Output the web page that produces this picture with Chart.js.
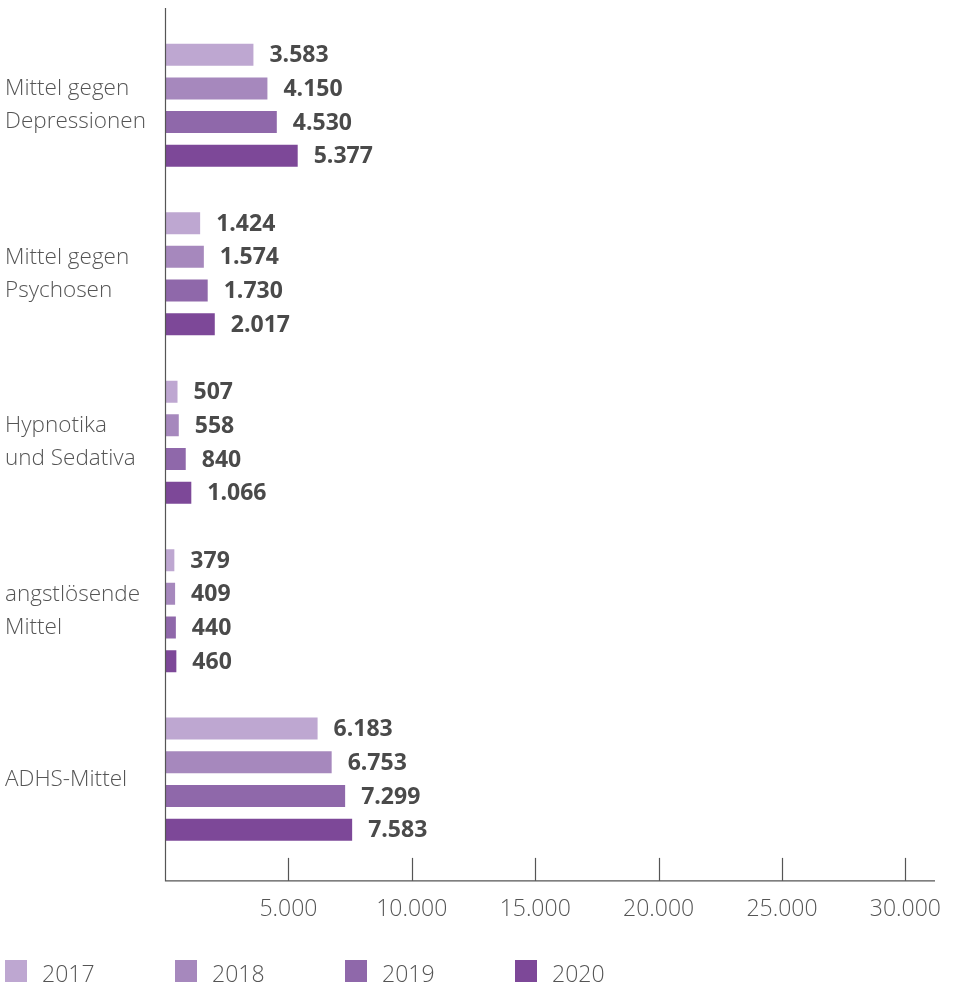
<!DOCTYPE html>
<html>
<head>
<meta charset="utf-8">
<script src="https://cdn.jsdelivr.net/npm/chart.js@4/dist/chart.umd.min.js"></script>
<style>
  html, body { margin: 0; padding: 0; background: #fff; }
  #wrap { position: absolute; left: 0; top: 0; width: 955px; height: 960px; }
  #legend { position: absolute; left: 5px; top: 960px; height: 22px; font-family: "Open Sans", sans-serif; font-weight: 300; font-size: 23px; color: #555; }
  .li { position: absolute; top: 0; height: 22px; white-space: nowrap; }
  .sw { position: absolute; left: 0; top: 0; width: 22px; height: 22px; }
  .lt { position: absolute; left: 37px; top: -1px; line-height: 28px; }
</style>
</head>
<body>
<div id="wrap"><canvas id="c"></canvas></div>
<div id="legend"></div>
<script>
const categories = [
  ["Mittel gegen", "Depressionen"],
  ["Mittel gegen", "Psychosen"],
  ["Hypnotika", "und Sedativa"],
  ["angstlösende", "Mittel"],
  "ADHS-Mittel"
];
const years = ["2017", "2018", "2019", "2020"];
const values2017 = [3583, 1424, 507, 379, 6183];
const values2018 = [4150, 1574, 558, 409, 6753];
const values2019 = [4530, 1730, 840, 440, 7299];
const values2020 = [5377, 2017, 1066, 460, 7583];
const xTickValues = [5000, 10000, 15000, 20000, 25000, 30000];
const xMax = 31200;
const colors = ["#bea7d1", "#a688bd", "#8f68aa", "#7d4898"];

function fmt(n) {
  return String(Math.round(n)).replace(/\B(?=(\d{3})+(?!\d))/g, ".");
}

const seriesValues = [values2017, values2018, values2019, values2020];

const decor = {
  id: 'decor',
  afterDatasetsDraw(chart) {
    const ctx = chart.ctx;
    const a = chart.chartArea;
    const xs = chart.scales.x;
    ctx.save();
    // value labels
    ctx.font = "bold 23px 'Open Sans', sans-serif";
    ctx.fillStyle = "#4a4a4a";
    ctx.textBaseline = "middle";
    ctx.textAlign = "left";
    chart.data.datasets.forEach((ds, i) => {
      const meta = chart.getDatasetMeta(i);
      meta.data.forEach((bar, j) => {
        ctx.fillText(fmt(ds.data[j]), bar.x + 16, bar.y + 1);
      });
    });
    // axis lines
    const axisY = a.bottom + 17.5;
    ctx.strokeStyle = "#555";
    ctx.lineWidth = 1.2;
    ctx.beginPath();
    ctx.moveTo(a.left + 0.5, a.top - 13);
    ctx.lineTo(a.left + 0.5, axisY);
    ctx.lineTo(a.right, axisY);
    ctx.stroke();
    // tick marks
    xs.ticks.forEach(t => {
      if (t.value > 0) {
        const px = Math.round(xs.getPixelForValue(t.value)) + 0.5;
        ctx.beginPath();
        ctx.moveTo(px, axisY - 23);
        ctx.lineTo(px, axisY);
        ctx.stroke();
      }
    });
    ctx.restore();
  }
};

new Chart(document.getElementById('c'), {
  type: 'bar',
  data: {
    labels: categories,
    datasets: years.map((y, i) => ({
      label: y,
      data: seriesValues[i],
      backgroundColor: colors[i],
      borderWidth: 0,
      categoryPercentage: 0.8,
      barPercentage: 0.653
    }))
  },
  options: {
    indexAxis: 'y',
    responsive: true,
    maintainAspectRatio: false,
    animation: false,
    layout: { padding: { left: 5, right: 20, top: 21, bottom: 5 } },
    plugins: { legend: { display: false }, tooltip: { enabled: false } },
    scales: {
      x: {
        min: 0,
        max: xMax,
        grid: { display: false, drawTicks: false },
        border: { display: false },
        afterBuildTicks(scale) { scale.ticks = xTickValues.map(v => ({ value: v })); },
        afterFit(scale) { scale.paddingRight = 0; scale.paddingLeft = 0; },
        ticks: {
          autoSkip: false,
          maxRotation: 0,
          padding: 32,
          color: "#555",
          font: { family: "'Open Sans', sans-serif", size: 23, weight: 300 },
          callback: v => fmt(v)
        }
      },
      y: {
        grid: { display: false, drawTicks: false },
        border: { display: false },
        afterFit(scale) { scale.width = 160; },
        ticks: {
          crossAlign: 'far',
          color: "#555",
          font: { family: "'Open Sans', sans-serif", size: 22.5, weight: 300, lineHeight: 1.46 }
        }
      }
    }
  },
  plugins: [decor]
});

const leg = document.getElementById('legend');
years.forEach((y, i) => {
  const d = document.createElement('div');
  d.className = 'li';
  d.style.left = (i * 170) + 'px';
  d.innerHTML = '<span class="sw" style="background:' + colors[i] + '"></span><span class="lt">' + y + '</span>';
  leg.appendChild(d);
});
</script>
</body>
</html>
